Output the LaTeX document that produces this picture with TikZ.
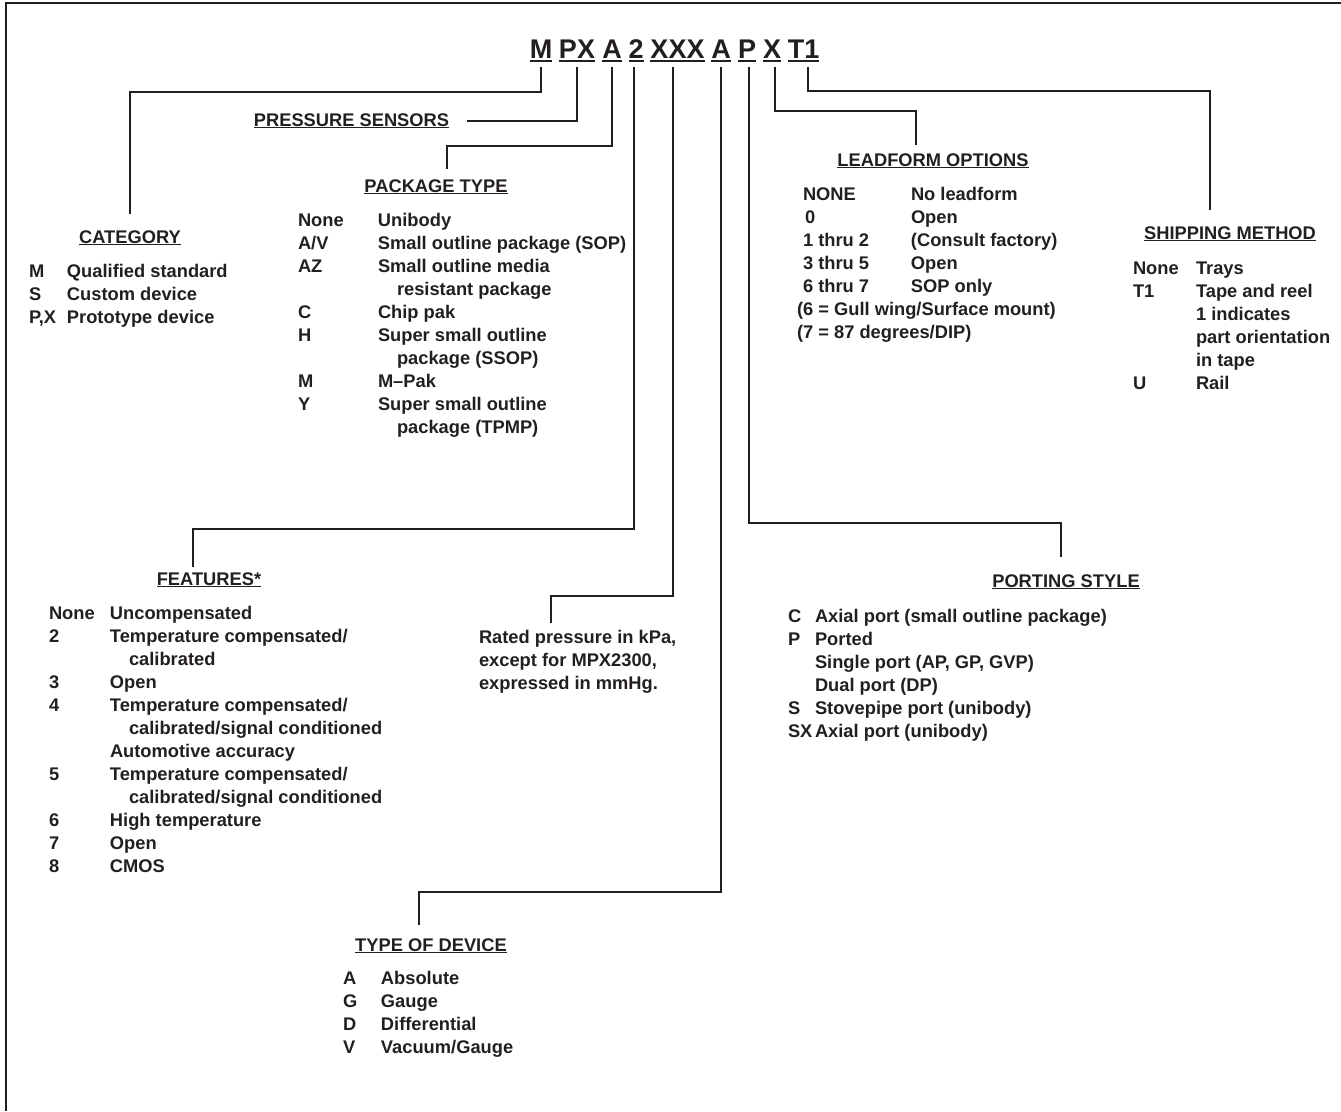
\documentclass[tikz,border=0pt]{standalone}
\usepackage{fontspec}
\setmainfont{Liberation Sans}
\usetikzlibrary{calc}
\definecolor{ink}{RGB}{35,31,32}
\newcommand{\undl}[3]{\vtop{\hbox{#3}\kern#1\hrule height#2}}

\begin{document}
\begin{tikzpicture}[x=1pt, y=-1pt,
    every node/.style={text=ink, font=\bfseries\fontsize{18.3}{23}\selectfont},
    code/.style={anchor=base, inner sep=5pt, font=\bfseries\fontsize{27}{32}\selectfont},
    head/.style={anchor=base, inner sep=2pt, outer sep=0pt},
    list/.style={anchor=base west, inner sep=0pt, outer sep=0pt},
    link/.style={draw=ink, line width=2pt}]
    \useasboundingbox (0,0) rectangle (1341,1111);
    \draw[ink, line width=2pt] (6,1111) |- (1341,2.5);

    % part number
    \node[code] (tM) at (541,58) {\undl{1.5pt}{2pt}{M}};
    \node[code] (tPX) at (577,58) {\undl{1.5pt}{2pt}{PX}};
    \node[code] (tA) at (612,58) {\undl{1.5pt}{2pt}{A}};
    \node[code] (t2) at (636,58) {\undl{1.5pt}{2pt}{2}};
    \node[code] (tXXX) at (677.5,58) {\undl{1.5pt}{2pt}{XXX}};
    \node[code] (tAA) at (721,58) {\undl{1.5pt}{2pt}{A}};
    \node[code] (tP) at (747,58) {\undl{1.5pt}{2pt}{P}};
    \node[code] (tX) at (772,58) {\undl{1.5pt}{2pt}{X}};
    \node[code] (tT) at (803.5,58) {\undl{1.5pt}{2pt}{T1}};

    % headings
    \node[head] (cat) at (130,243) {\undl{1.2pt}{1pt}{CATEGORY}};
    \node[head] (press) at (351.5,126) {\undl{1.2pt}{1pt}{PRESSURE SENSORS}};
    \node[head] (pkg) at (436,192) {\undl{1.2pt}{1pt}{PACKAGE TYPE}};
    \node[head] (lead) at (933,166) {\undl{1.2pt}{1pt}{LEADFORM OPTIONS}};
    \node[head] (ship) at (1230,239) {\undl{1.2pt}{1pt}{SHIPPING METHOD}};
    \node[head] (feat) at (209,585) {\undl{1.2pt}{1pt}{FEATURES*}};
    \node[head] (port) at (1066,587) {\undl{1.2pt}{1pt}{PORTING STYLE}};
    \node[head] (type) at (431,951) {\undl{1.2pt}{1pt}{TYPE OF DEVICE}};

    % lists
    \node[list] (catlist) at (29,277) {\begin{tabular}[t]{@{}p{38pt}@{}l@{}}
        M & Qualified standard\\
        S & Custom device\\
        P,X & Prototype device
    \end{tabular}};
    \node[list] (pkglist) at (298,226) {\begin{tabular}[t]{@{}p{80pt}@{}l@{}}
        None & Unibody\\
        A/V & Small outline package (SOP)\\
        AZ & Small outline media\\
        & \hspace{19pt}resistant package\\
        C & Chip pak\\
        H & Super small outline\\
        & \hspace{19pt}package (SSOP)\\
        M & M–Pak\\
        Y & Super small outline\\
        & \hspace{19pt}package (TPMP)
    \end{tabular}};
    \node[list] (leadlist) at (803,200) {\begin{tabular}[t]{@{}p{108pt}@{}l@{}}
        NONE & No leadform\\
        \hspace{2pt}0 & Open\\
        1 thru 2 & (Consult factory)\\
        3 thru 5 & Open\\
        6 thru 7 & SOP only\\
        \multicolumn{2}{@{}l@{}}{\hspace{-6pt}(6 = Gull wing/Surface mount)}\\
        \multicolumn{2}{@{}l@{}}{\hspace{-6pt}(7 = 87 degrees/DIP)}
    \end{tabular}};
    \node[list] (shiplist) at (1133,274) {\begin{tabular}[t]{@{}p{63pt}@{}l@{}}
        None & Trays\\
        T1 & Tape and reel\\
        & 1 indicates\\
        & part orientation\\
        & in tape\\
        U & Rail
    \end{tabular}};
    \node[list] (featlist) at (49,619) {\begin{tabular}[t]{@{}p{61pt}@{}l@{}}
        None & Uncompensated\\
        2 & Temperature compensated/\\
        & \hspace{19pt}calibrated\\
        3 & Open\\
        4 & Temperature compensated/\\
        & \hspace{19pt}calibrated/signal conditioned\\
        & Automotive accuracy\\
        5 & Temperature compensated/\\
        & \hspace{19pt}calibrated/signal conditioned\\
        6 & High temperature\\
        7 & Open\\
        8 & CMOS
    \end{tabular}};
    \node[list] (rated) at (479,643) {\begin{tabular}[t]{@{}l@{}}
        Rated pressure in kPa,\\
        except for MPX2300,\\
        expressed in mmHg.
    \end{tabular}};
    \node[list] (portlist) at (788,622) {\begin{tabular}[t]{@{}p{27pt}@{}l@{}}
        C & Axial port (small outline package)\\
        P & Ported\\
        & Single port (AP, GP, GVP)\\
        & Dual port (DP)\\
        S & Stovepipe port (unibody)\\
        SX & Axial port (unibody)
    \end{tabular}};
    \node[list] (typelist) at (343,984) {\begin{tabular}[t]{@{}p{38pt}@{}l@{}}
        A & Absolute\\
        G & Gauge\\
        D & Differential\\
        V & Vacuum/Gauge
    \end{tabular}};

    % connectors
    \draw[link, shorten >=14.5pt] (tM.south) -- ++(0,25) -| (cat.north);
    \draw[link, shorten >=16pt] (tPX.south) |- (press.east);
    \draw[link, shorten >=8pt] (tA.south) -- ++(0,79) -| ([xshift=11pt]pkg.north);
    \draw[link, shorten >=3pt] ([xshift=-2pt]t2.south) -- ++(0,462) -| ([xshift=-16pt]feat.north);
    \draw[link, shorten >=4pt] ([xshift=-5pt]tXXX.south) -- ++(0,529) -| ([xshift=-26.5pt]rated.north);
    \draw[link, shorten >=11pt] (tAA.south) -- ++(0,825) -| ([xshift=-12pt]type.north);
    \draw[link, shorten >=15pt] ([xshift=2pt]tP.south) -- ++(0,456) -| ([xshift=-5pt]port.north);
    \draw[link, shorten >=6pt] ([xshift=3pt]tX.south) -- ++(0,44) -| ([xshift=-17pt]lead.north);
    \draw[link, shorten >=14pt] ([xshift=4pt]tT.south) -- ++(0,24) -| ([xshift=-20pt]ship.north);
\end{tikzpicture}
\end{document}
